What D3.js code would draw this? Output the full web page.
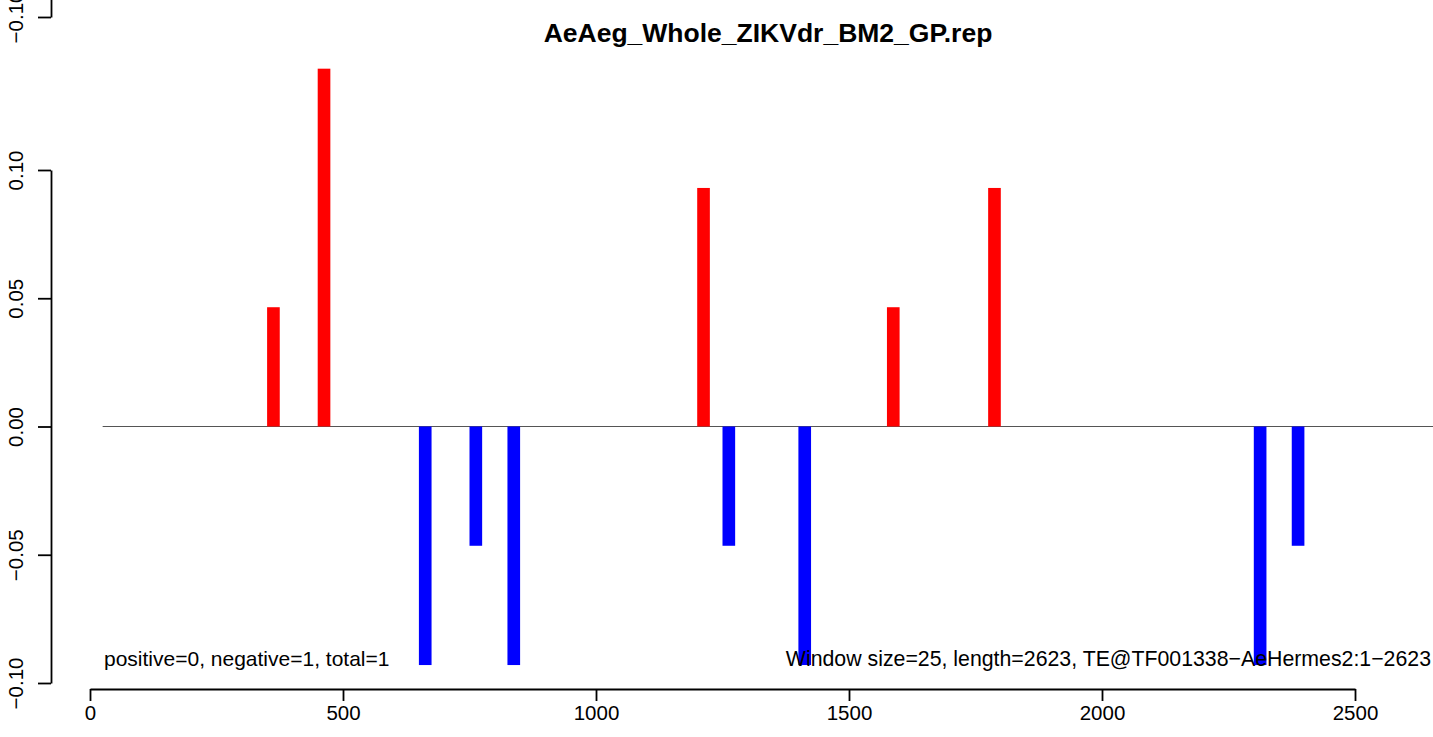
<!DOCTYPE html>
<html>
<head>
<meta charset="utf-8">
<title>AeAeg_Whole_ZIKVdr_BM2_GP.rep</title>
<style>
  html, body { margin: 0; padding: 0; background: #fff; }
  svg { display: block; font-family: "Liberation Sans", Arial, Helvetica, sans-serif; }
</style>
</head>
<body>
<script src="https://cdn.jsdelivr.net/npm/d3@7/dist/d3.min.js"></script>
<script>
// window start positions (bp) and their values
const binStart = [350, 450, 650, 750, 825, 1200, 1250, 1400, 1575, 1775, 2300, 2375];
const binValue = [0.0465, 0.1395, -0.093, -0.0465, -0.093, 0.093, -0.0465, -0.093, 0.0465, 0.093, -0.093, -0.0465];
const windowSize = 25;
const teLength = 2623;
const xTicks = [0, 500, 1000, 1500, 2000, 2500];
const yTicks = [-0.10, -0.05, 0.00, 0.05, 0.10];
const titleText = "AeAeg_Whole_ZIKVdr_BM2_GP.rep";
const countText = "positive=0, negative=1, total=1";
const infoText = "Window size=25, length=2623, TE@TF001338\u2212AeHermes2:1\u22122623";

const W = 1433, H = 737;
const fmt = d => d3.format(".2f")(d).replace("-", "\u2212");

const svg = d3.select("body").append("svg")
  .attr("width", W)
  .attr("height", H);

const x = d3.scaleLinear().domain([0, 2500]).range([90, 1355]);
const y = d3.scaleLinear().domain([-0.1, 0.1]).range([683, 170]);

// zero line
svg.append("line")
  .attr("x1", x(windowSize)).attr("x2", W)
  .attr("y1", y(0)).attr("y2", y(0))
  .attr("stroke", "#555").attr("stroke-width", 1);

// bars
svg.selectAll("rect.bin")
  .data(binStart)
  .enter()
  .append("rect")
  .attr("class", "bin")
  .attr("x", d => x(d))
  .attr("width", d => x(d + windowSize) - x(d))
  .attr("y", (d, i) => y(Math.max(0, binValue[i])))
  .attr("height", (d, i) => Math.abs(y(binValue[i]) - y(0)))
  .attr("fill", (d, i) => binValue[i] > 0 ? "#ff0000" : "#0000ff");

// axes
function styleAxis(g) {
  g.selectAll("path, line").attr("stroke", "#000").attr("stroke-width", 1.8);
  g.selectAll("text").attr("fill", "#000").style("font-size", "20.5px");
}

function rotateLabels(g) {
  g.selectAll(".tick text")
    .attr("x", null).attr("y", null)
    .attr("text-anchor", "middle")
    .attr("transform", "translate(-35,0) rotate(-90)")
    .attr("dy", "0.35em");
}

const yAxis = d3.axisLeft(y).tickValues(yTicks).tickFormat(fmt).tickSize(13).tickSizeOuter(0);
const gy = svg.append("g").attr("transform", "translate(51,0)").call(yAxis);
rotateLabels(gy);
styleAxis(gy);

// fragment of the panel above, cut by the page edge
const yPrev = d3.scaleLinear().domain([-0.1, 0.1]).range([17, 17 - 513]);
const gp = svg.append("g").attr("transform", "translate(51,0)")
  .call(d3.axisLeft(yPrev).tickValues([-0.1]).tickFormat(fmt).tickSize(13).tickSizeOuter(0));
rotateLabels(gp);
styleAxis(gp);

const xAxis = d3.axisBottom(x).tickValues(xTicks).tickFormat(d3.format("d")).tickSize(12).tickSizeOuter(0).tickPadding(4);
const gx = svg.append("g").attr("transform", "translate(0,689)").call(xAxis);
styleAxis(gx);

// title and notes
svg.append("text")
  .attr("x", 768).attr("y", 42)
  .attr("text-anchor", "middle")
  .style("font-size", "26.5px").style("font-weight", "bold")
  .text(titleText);

svg.append("text")
  .attr("x", 104).attr("y", 666)
  .style("font-size", "21px")
  .text(countText);

svg.append("text")
  .attr("x", 1431).attr("y", 666)
  .attr("text-anchor", "end")
  .style("font-size", "21.3px")
  .text(infoText);
</script>
</body>
</html>
